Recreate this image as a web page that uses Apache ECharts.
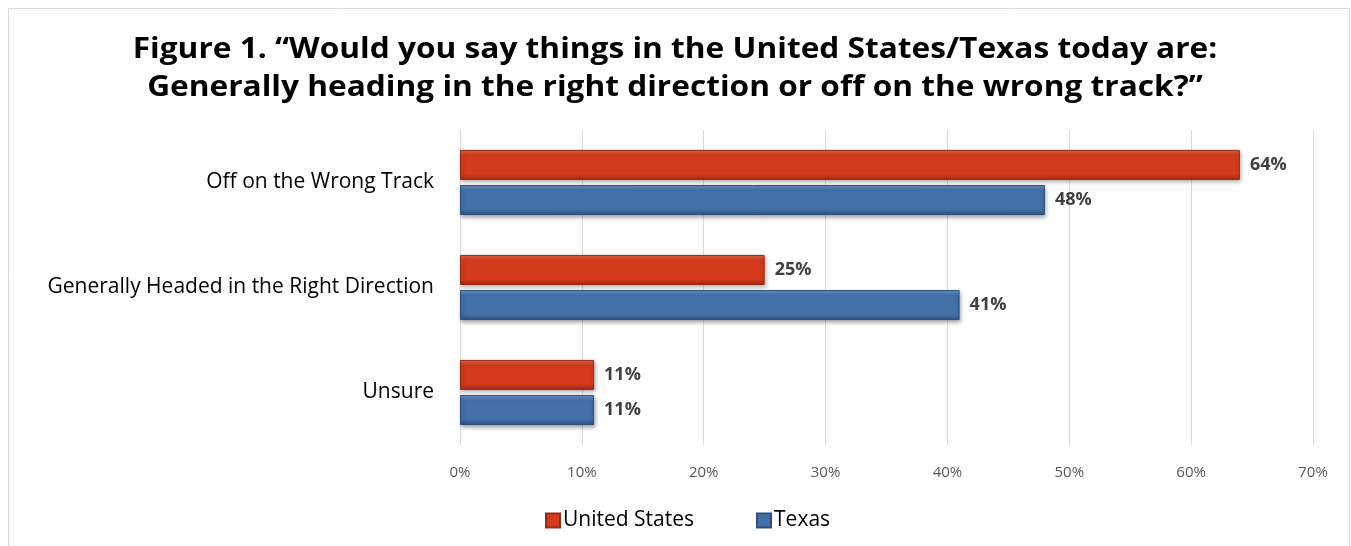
<!DOCTYPE html>
<html>
<head>
<meta charset="utf-8">
<script src="https://cdn.jsdelivr.net/npm/echarts@6/dist/echarts.min.js"></script>
<style>
  html, body { margin: 0; padding: 0; background: #ffffff; }
  #chart { width: 1351px; height: 546px; }
</style>
</head>
<body>
<div id="chart"></div>
<script>
// Survey responses, percent
const categories = ['Off on the Wrong Track', 'Generally Headed in the Right Direction', 'Unsure'];
const unitedStates = [64, 25, 11];
const texas = [48, 41, 11];
const seriesNames = ['United States', 'Texas'];
const titleLines = [
  'Figure 1. \u201cWould you say things in the United States/Texas today are:',
  'Generally heading in the right direction or off on the wrong track?\u201d'
];

const FONT = '"Open Sans", Lato, sans-serif';

function bevel(top, mid, bottom) {
  return {
    type: 'linear', x: 0, y: 0, x2: 0, y2: 1,
    colorStops: [
      { offset: 0, color: top },
      { offset: 0.18, color: mid },
      { offset: 0.8, color: mid },
      { offset: 1, color: bottom }
    ]
  };
}

const redFill = bevel('#e8674a', '#d33b1c', '#a52a10');
const blueFill = bevel('#6b97cf', '#4470a8', '#2f5483');

const chart = echarts.init(document.getElementById('chart'), null, { renderer: 'canvas' });

function makeSeries(name, data, fill, edge) {
  return {
    name: name,
    type: 'bar',
    data: data,
    barWidth: 30,
    barGap: '17%',
    itemStyle: {
      color: fill,
      borderColor: edge,
      borderWidth: 1,
      shadowColor: 'rgba(0,0,0,0.35)',
      shadowBlur: 4,
      shadowOffsetX: 1,
      shadowOffsetY: 2
    },
    label: {
      show: true,
      position: 'right',
      distance: 10,
      formatter: function (p) { return p.value + '%'; },
      fontFamily: FONT,
      fontWeight: 'bold',
      fontSize: 18,
      color: '#404040'
    }
  };
}

// Two-line heading, drawn slightly widened
const titleGraphics = titleLines.map(function (line, i) {
  return {
    type: 'text',
    x: 675,
    y: 50 + i * 38,
    scaleX: 1.13,
    silent: true,
    style: {
      text: line,
      x: 0,
      y: 0,
      textAlign: 'center',
      textVerticalAlign: 'middle',
      font: 'bold 28px ' + FONT,
      fill: '#000000'
    }
  };
});

chart.setOption({
  animation: false,
  backgroundColor: '#ffffff',
  graphic: [{
    type: 'rect',
    shape: { x: 8.5, y: 8.5, width: 1341, height: 560 },
    style: { fill: 'none', stroke: '#d9d9d9', lineWidth: 1 },
    silent: true,
    z: -1
  }].concat(titleGraphics),
  grid: { left: 460, right: 38, top: 130, bottom: 101 },
  xAxis: {
    type: 'value',
    min: 0,
    max: 70,
    interval: 10,
    axisLine: { show: false },
    axisTick: { show: false },
    splitLine: { show: true, lineStyle: { color: '#d9d9d9', width: 1 } },
    axisLabel: {
      formatter: '{value}%',
      fontFamily: FONT,
      fontSize: 15,
      color: '#595959',
      margin: 20
    }
  },
  yAxis: {
    type: 'category',
    data: categories,
    inverse: true,
    axisLine: { show: false },
    axisTick: { show: false },
    axisLabel: {
      fontFamily: FONT,
      fontSize: 21,
      color: '#000000',
      margin: 26
    }
  },
  legend: {
    bottom: 10,
    left: 540,
    itemWidth: 14,
    itemHeight: 14,
    itemGap: 62,
    icon: 'rect',
    textStyle: { fontFamily: FONT, fontSize: 21, color: '#000000', padding: [0, 0, 0, -2] },
    data: seriesNames
  },
  series: [
    makeSeries(seriesNames[0], unitedStates, redFill, '#9b2a12'),
    makeSeries(seriesNames[1], texas, blueFill, '#2d4f7c')
  ]
});
</script>
</body>
</html>
